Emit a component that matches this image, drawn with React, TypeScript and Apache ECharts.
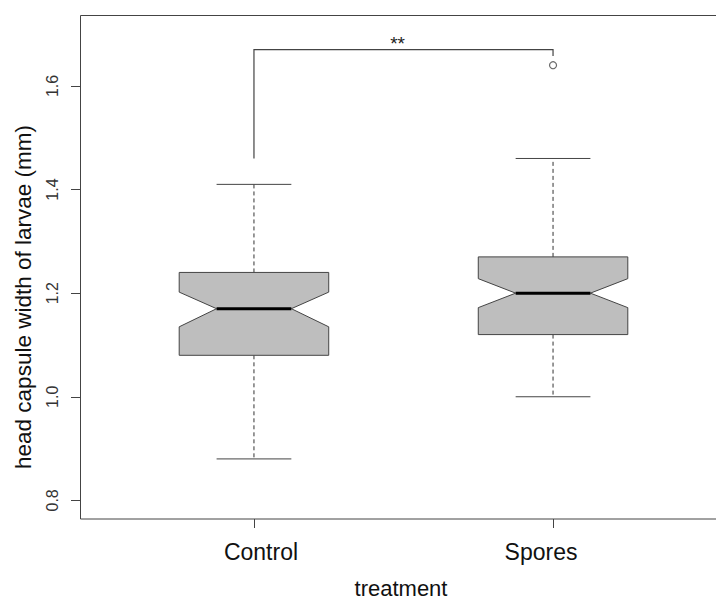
import React, { useEffect, useRef } from "react";
import * as echarts from "echarts";

// ---- data ----
const categories = ["Control", "Spores"];
const lowerWhisker = [0.88, 1.0];
const q1 = [1.08, 1.12];
const notchLow = [1.135, 1.172];
const median = [1.17, 1.2];
const notchHigh = [1.202, 1.228];
const q3 = [1.24, 1.27];
const upperWhisker = [1.41, 1.46];
const outliers: [number, number][] = [[2, 1.64]];
const yTicks = [0.8, 1.0, 1.2, 1.4, 1.6];
const xTicks = [1, 2];
// significance bracket: [fromCat, toCat, leftBottom, top, rightBottom, labelX]
const bracket = [1, 2, 1.46, 1.67, 1.658, 1.48];
const sigLabel = "**";
const xTitle = "treatment";
const yTitle = "head capsule width of larvae (mm)";

const FONT = '"Liberation Sans", Arial, Helvetica, sans-serif';
const LINE = "#444";

export default function App() {
  const ref = useRef<HTMLDivElement>(null);
  useEffect(() => {
    if (!ref.current) return;
    const chart = echarts.init(ref.current, undefined, { renderer: "svg" });
    const boxData = categories.map((_, i) => [
      i + 1,
      lowerWhisker[i],
      q1[i],
      notchLow[i],
      median[i],
      notchHigh[i],
      q3[i],
      upperWhisker[i],
    ]);
    const option: any = {
      animation: false,
      backgroundColor: "#fff",
      grid: {
        left: 80.5,
        top: 15.5,
        width: 646,
        height: 503.5,
        show: true,
        borderColor: LINE,
        borderWidth: 1,
        backgroundColor: "transparent",
      },
      xAxis: {
        type: "value",
        min: 0.42,
        max: 2.58,
        axisLine: { show: false },
        splitLine: { show: false },
        axisTick: {
          show: true,
          customValues: xTicks,
          length: 9,
          lineStyle: { color: LINE, width: 1 },
        },
        axisLabel: {
          customValues: xTicks,
          margin: 21,
          fontSize: 23,
          fontFamily: FONT,
          color: "#111",
          formatter: (v: number) => {
            const i = Math.round(v) - 1;
            return `{c${i}|${categories[i]}}`;
          },
          rich: {
            c0: { fontSize: 23, fontFamily: FONT, color: "#111", padding: [0, 0, 0, 14] },
            c1: { fontSize: 23, fontFamily: FONT, color: "#111", padding: [0, 24, 0, 0] },
          },
        },
      },
      yAxis: {
        type: "value",
        min: 0.764,
        max: 1.736,
        axisLine: { show: false },
        splitLine: { show: false },
        axisTick: {
          show: true,
          customValues: yTicks,
          length: 9.5,
          lineStyle: { color: LINE, width: 1 },
        },
        axisLabel: {
          customValues: yTicks,
          rotate: 90,
          margin: 20,
          fontSize: 16,
          fontFamily: FONT,
          color: "#333",
          formatter: (v: number) => v.toFixed(1),
        },
      },
      graphic: [
        {
          type: "text",
          x: 23,
          y: 297,
          rotation: Math.PI / 2,
          style: {
            text: yTitle,
            font: `22.5px ${FONT}`,
            fill: "#111",
            align: "center",
            verticalAlign: "middle",
          },
        },
        {
          type: "text",
          x: 401,
          y: 588.5,
          style: {
            text: xTitle,
            font: `22px ${FONT}`,
            fill: "#111",
            align: "center",
            verticalAlign: "middle",
          },
        },
      ],
      series: [
        {
          type: "custom",
          name: "box",
          data: boxData,
          encode: { x: 0, y: [1, 2, 3, 4, 5, 6, 7] },
          renderItem: (params: any, api: any) => {
            const x = api.value(0);
            const p = (v: number) => api.coord([x, v]);
            const hw = api.size([0.25, 0])[0];
            const nw = api.size([0.125, 0])[0];
            const cx = p(api.value(4))[0];
            const yLw = p(api.value(1))[1];
            const yQ1 = p(api.value(2))[1];
            const yNl = p(api.value(3))[1];
            const yMed = p(api.value(4))[1];
            const yNh = p(api.value(5))[1];
            const yQ3 = p(api.value(6))[1];
            const yUw = p(api.value(7))[1];
            const dash = { stroke: "#333", lineWidth: 1, lineDash: [4, 3] };
            const solid = { stroke: LINE, lineWidth: 1 };
            return {
              type: "group",
              children: [
                { type: "line", shape: { x1: cx, y1: yQ3, x2: cx, y2: yUw }, style: dash },
                { type: "line", shape: { x1: cx, y1: yQ1, x2: cx, y2: yLw }, style: dash },
                { type: "line", shape: { x1: cx - nw, y1: yUw, x2: cx + nw, y2: yUw }, style: solid },
                { type: "line", shape: { x1: cx - nw, y1: yLw, x2: cx + nw, y2: yLw }, style: solid },
                {
                  type: "polygon",
                  shape: {
                    points: [
                      [cx - hw, yQ3],
                      [cx + hw, yQ3],
                      [cx + hw, yNh],
                      [cx + nw, yMed],
                      [cx + hw, yNl],
                      [cx + hw, yQ1],
                      [cx - hw, yQ1],
                      [cx - hw, yNl],
                      [cx - nw, yMed],
                      [cx - hw, yNh],
                    ],
                  },
                  style: { fill: "#bebebe", stroke: LINE, lineWidth: 1 },
                },
                {
                  type: "line",
                  shape: { x1: cx - nw, y1: yMed, x2: cx + nw, y2: yMed },
                  style: { stroke: "#000", lineWidth: 3 },
                },
              ],
            };
          },
        },
        {
          type: "scatter",
          name: "outliers",
          data: outliers,
          symbol: "circle",
          symbolSize: 7,
          itemStyle: { color: "#fff", borderColor: LINE, borderWidth: 1.2 },
        },
        {
          type: "custom",
          name: "bracket",
          data: [bracket],
          encode: { x: [0, 1, 5], y: [2, 3, 4] },
          renderItem: (params: any, api: any) => {
            const a = api.coord([api.value(0), api.value(2)]);
            const b = api.coord([api.value(0), api.value(3)]);
            const c = api.coord([api.value(1), api.value(3)]);
            const d = api.coord([api.value(1), api.value(4)]);
            const t = api.coord([api.value(5), api.value(3)]);
            return {
              type: "group",
              children: [
                {
                  type: "polyline",
                  shape: { points: [a, b, c, d] },
                  style: { stroke: LINE, lineWidth: 1.2, fill: null },
                },
                {
                  type: "text",
                  x: t[0],
                  y: t[1] - 6.6,
                  style: {
                    text: sigLabel,
                    font: `19px ${FONT}`,
                    fill: "#222",
                    align: "center",
                    verticalAlign: "middle",
                  },
                },
              ],
            };
          },
        },
      ],
    };
    chart.setOption(option);
    return () => chart.dispose();
  }, []);
  return (
    <div
      style={{
        position: "fixed",
        left: 0,
        top: 0,
        width: 716,
        height: 601,
        overflow: "hidden",
        background: "#fff",
      }}
    >
      <div ref={ref} style={{ width: 760, height: 601 }} />
    </div>
  );
}
